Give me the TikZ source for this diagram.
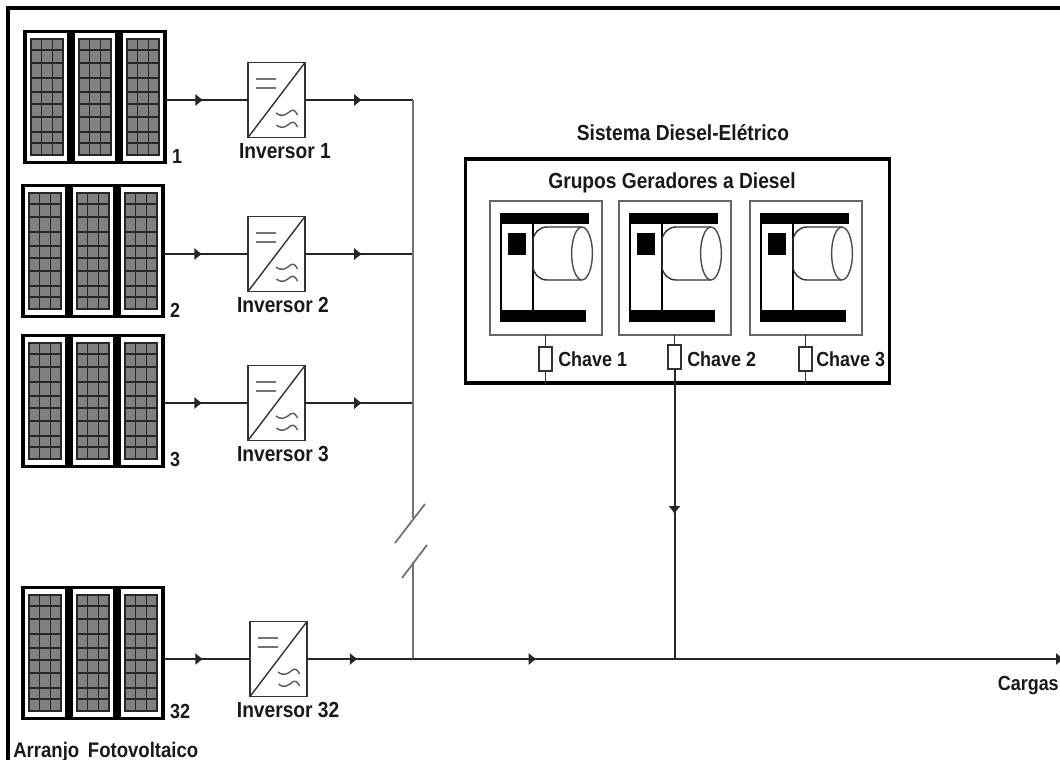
\documentclass[tikz,border=0pt]{standalone}
\usepackage{fontspec}
\setmainfont[FakeStretch=0.88]{Liberation Sans}
\usepackage{xcolor}
\usetikzlibrary{positioning,arrows.meta,calc,decorations.markings}

\begin{document}
\begin{tikzpicture}[
  x=0.25mm,y=-0.25mm,
  font=\fontsize{14.5}{17}\selectfont\bfseries,
  rotulo/.style={inner sep=0pt,text=black!90},
  maior/.style={rotulo,font=\fontsize{15.5}{18}\selectfont\bfseries},
  arranjo/.style={rectangle,inner sep=0pt,outer sep=0pt,minimum width=35.25mm,minimum height=33.25mm},
  inversor/.style={rectangle,draw=black!80,line width=.4mm,fill=white,inner sep=0pt,outer sep=0pt,
                   minimum width=14.25mm,minimum height=18.75mm},
  gerador/.style={rectangle,draw=black!60,line width=.45mm,inner sep=0pt,outer sep=0pt,
                  minimum width=28mm,minimum height=33.5mm},
  chave/.style={rectangle,draw=black!80,line width=.35mm,fill=white,inner sep=0pt,outer sep=0pt,
                minimum width=3.25mm,minimum height=6mm},
  sistema/.style={rectangle,draw,line width=.8mm,inner sep=0pt,outer sep=0pt,
                  minimum width=106mm,minimum height=56mm},
  fio/.style={line width=.5mm,black!85},
  barra/.style={line width=.65mm,black!55},
  seta/.style={decoration={markings,mark=at position #1 with {\arrow{Latex[length=2mm,width=3.2mm]}}},
               postaction={decorate}},
  painel/.pic={
    \draw[line width=.8mm,fill=white] (-22,-65.5) rectangle (22,65.5);
    \fill[black!50] (-16,-58) rectangle (16,58);
    \draw[line width=.3mm,black!85] (-16,-58) rectangle (16,58);
    \foreach \gx in {-5.5,5.5}
      \draw[line width=.3mm,black!85] (\gx,-58) -- (\gx,58);
    \foreach \gy in {-47,-34,-19,-5,7,20,35,46}
      \draw[line width=.3mm,black!85] (-16,\gy) -- (16,\gy);
  },
  conversor/.pic={
    \draw[line width=.5mm,black!55] (-20.5,-21) -- (-.5,-21) (-20.5,-12) -- (-.5,-12);
    \draw[line width=.35mm,black!65] (-.5,13) .. controls (6,18) and (10,14) .. (14,11) .. controls (17,9) and (19,11) .. (21,15);
    \draw[line width=.35mm,black!65] (0,25) .. controls (6,30) and (10,26) .. (14,23) .. controls (17,21) and (19,23) .. (21,27);
  },
  motor/.pic={
    \fill (-46,-55) rectangle (43,-44);
    \fill (-46,42) rectangle (40,54);
    \fill (-38,-35) rectangle (-20,-13);
    \draw[line width=.35mm] (-45,-44) -- (-45,42) (-13,-44) -- (-13,42);
    \draw[line width=.35mm,black!80,rounded corners=3.5mm] (36,-41) -- (-13,-41) -- (-13,12) -- (36,12);
    \draw[line width=.35mm,black!70] (36,-14.5) ellipse [x radius=2.6mm,y radius=6.6mm];
  }
]
\useasboundingbox (0,0) rectangle (1060,760);

% ---- frame ----
\coordinate (fa) at (8,760);
\coordinate (fb) at (8,8);
\coordinate (fc) at (1060,8);
\draw[line width=.8mm] (fa) -- (fb) -- (fc);

% ---- arrays and inverters ----
\coordinate (bs) at (413,518);
\coordinate (bi) at (413,562);
\coordinate (jb) at (413,659);
\coordinate (cg) at (1064,659);

\foreach \n/\px/\py/\ix/\iy/\lx in {1/95/97/276.5/100/2.1,2/93/251/276.5/254/1.6,3/93/401/276.5/403/1.6,32/93/653/278.5/659/2.4}{
  \node[arranjo] (pv\n) at (\px,\py) {};
  \foreach \dx in {-48,0,48}
    \pic at ($(pv\n)+(\dx,0)$) {painel};
  \node[inversor] (inv\n) at (\ix,\iy) {};
  \draw[line width=.35mm,black!80] (inv\n.south west) -- (inv\n.north east);
  \pic at (inv\n) {conversor};
  \node[rotulo,anchor=south west,xshift=1.6mm] (num\n) at (pv\n.south east) {\n};
  \node[maior,below=1.4mm of inv\n,xshift=\lx mm] (lbl\n) {Inversor \n};
  \draw[fio,seta=.46] (inv\n -| pv\n.east) -- (inv\n.west);
}
\foreach \n in {1,2,3}
  \draw[fio,seta=.53] (inv\n.east) -- (inv\n -| bs);
\draw[fio,seta=.48] (inv32.east) -- (jb);
\node[rotulo,anchor=base west,font=\fontsize{15}{18}\selectfont\bfseries] (arr) at (13,757) {Arranjo\, Fotovoltaico};

% ---- bus ----
\coordinate (ra) at (395,543);
\coordinate (rb) at (425,504);
\coordinate (rc) at (402,578);
\coordinate (rd) at (427,545);
\draw[barra] (inv1 -| bs) -- (bs);
\draw[barra] (bi) -- (jb);
\draw[barra,line width=.45mm] (ra) -- (rb);
\draw[barra,line width=.45mm] (rc) -- (rd);

% ---- diesel system ----
\node[sistema] (dsl) at (677.5,271) {};
\node[maior] (tit) at (683,133) {Sistema Diesel-Elétrico};
\node[maior] (grp) at (672,183) {Grupos Geradores a Diesel};
\foreach \n/\gx/\cx/\cy/\tx in {1/546/545.5/359/558,2/675/674.5/357/687,3/806/805.5/359/816}{
  \node[gerador] (ger\n) at (\gx,268) {};
  \pic at (ger\n) {motor};
  \node[chave] (ch\n) at (\cx,\cy) {};
  \node[rotulo,anchor=west] (lch\n) at (\tx,359) {Chave \n};
  \draw[line width=.35mm,black!80] (ch\n.north) -- (ch\n.north |- ger\n.south);
}
\foreach \n in {1,3}
  \draw[line width=.35mm,black!80] (ch\n.south) -- (ch\n.south |- dsl.south);

% ---- loads ----
\draw[fio,seta=.19,-{Latex[length=2mm,width=3.2mm]}] (jb) -- (cg);
\draw[fio,seta=.5] (ch2.south) -- (ch2.south |- jb);
\node[rotulo,anchor=base east] (cargas) at (1059,690) {Cargas};

\end{tikzpicture}
\end{document}
